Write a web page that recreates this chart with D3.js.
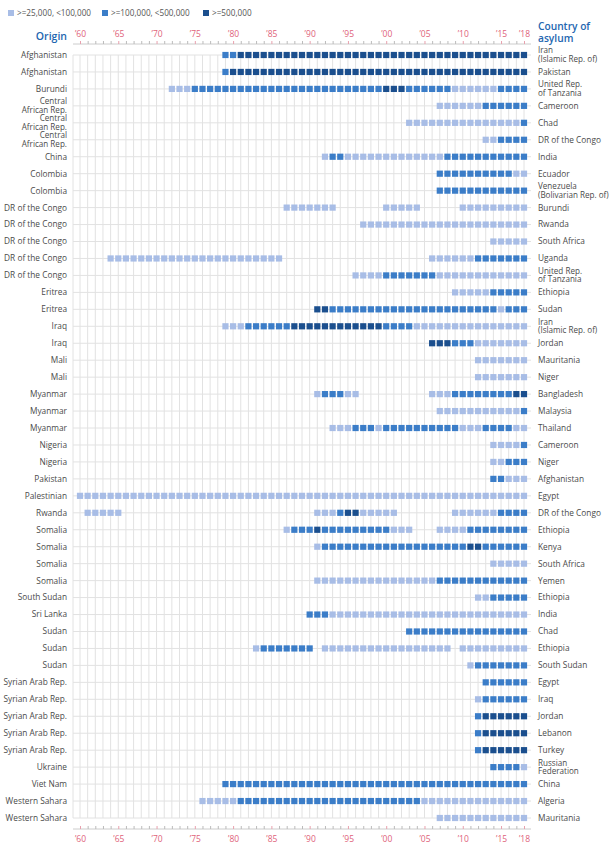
<!DOCTYPE html>
<html><head><meta charset="utf-8">
<script src="https://cdn.jsdelivr.net/npm/d3@7"></script>
<style>
body{margin:0;background:#fff;}
svg text{font-family:"Open Sans",sans-serif;}
</style></head>
<body><svg id="c" width="610" height="850"></svg>
<script>
// ---------- DATA ----------
const origins = ["Afghanistan","Afghanistan","Burundi","Central\nAfrican Rep.","Central\nAfrican Rep.","Central\nAfrican Rep.","China","Colombia","Colombia",
"DR of the Congo","DR of the Congo","DR of the Congo","DR of the Congo","DR of the Congo","Eritrea","Eritrea","Iraq","Iraq","Mali","Mali",
"Myanmar","Myanmar","Myanmar","Nigeria","Nigeria","Pakistan","Palestinian","Rwanda","Somalia","Somalia","Somalia","Somalia","South Sudan",
"Sri Lanka","Sudan","Sudan","Sudan","Syrian Arab Rep.","Syrian Arab Rep.","Syrian Arab Rep.","Syrian Arab Rep.","Syrian Arab Rep.","Ukraine",
"Viet Nam","Western Sahara","Western Sahara"];
const asylums = ["Iran\n(Islamic Rep. of)","Pakistan","United Rep.\nof Tanzania","Cameroon","Chad","DR of the Congo","India","Ecuador","Venezuela\n(Bolivarian Rep. of)",
"Burundi","Rwanda","South Africa","Uganda","United Rep.\nof Tanzania","Ethiopia","Sudan","Iran\n(Islamic Rep. of)","Jordan","Mauritania","Niger",
"Bangladesh","Malaysia","Thailand","Cameroon","Niger","Afghanistan","Egypt","DR of the Congo","Ethiopia","Kenya","South Africa","Yemen","Ethiopia",
"India","Chad","Ethiopia","South Sudan","Egypt","Iraq","Jordan","Lebanon","Turkey","Russian\nFederation","China","Algeria","Mauritania"];
// runs per row: [firstYear, lastYear, level]  (1: >=25k <100k, 2: >=100k <500k, 3: >=500k)
const runs = [
 [[1979,1980,2],[1981,2018,3]],
 [[1979,1979,2],[1980,2018,3]],
 [[1972,1974,1],[1975,1999,2],[2000,2002,3],[2003,2008,2],[2009,2014,1],[2015,2018,2]],
 [[2007,2012,1],[2013,2018,2]],
 [[2003,2017,1],[2018,2018,2]],
 [[2013,2014,1],[2015,2018,2]],
 [[1992,1992,1],[1993,1994,2],[1995,2007,1],[2008,2018,2]],
 [[2007,2016,2],[2017,2018,1]],
 [[2007,2018,2]],
 [[1987,1993,1],[2000,2004,1],[2010,2018,1]],
 [[1997,2018,1]],
 [[2014,2018,1]],
 [[1964,1986,1],[2006,2011,1],[2012,2018,2]],
 [[1996,1999,1],[2000,2006,2],[2007,2018,1]],
 [[2009,2013,1],[2014,2018,2]],
 [[1991,1992,3],[1993,2014,2],[2015,2015,1],[2016,2018,2]],
 [[1979,1981,1],[1982,1987,2],[1988,1999,3],[2000,2003,2],[2004,2018,1]],
 [[2006,2008,3],[2009,2011,2],[2012,2018,1]],
 [[2012,2018,1]],
 [[2012,2018,1]],
 [[1991,1991,1],[1992,1994,2],[1995,1996,1],[2006,2008,1],[2009,2016,2],[2017,2018,3]],
 [[2007,2017,1],[2018,2018,2]],
 [[1993,1995,1],[1996,1998,2],[1999,1999,1],[2000,2009,2],[2010,2012,1],[2013,2016,2],[2017,2018,1]],
 [[2014,2017,1],[2018,2018,2]],
 [[2014,2015,1],[2016,2018,2]],
 [[2014,2015,2],[2016,2018,1]],
 [[1960,2018,1]],
 [[1961,1965,1],[1991,1993,1],[1994,1994,2],[1995,1996,3],[1997,2001,1],[2009,2014,1],[2015,2018,2]],
 [[1987,1987,1],[1988,1990,2],[1991,1991,3],[1992,2000,2],[2001,2003,1],[2007,2010,1],[2011,2018,2]],
 [[1991,1991,1],[1992,2010,2],[2011,2012,3],[2013,2018,2]],
 [[2014,2018,1]],
 [[1991,2006,1],[2007,2018,2]],
 [[2012,2013,1],[2014,2018,2]],
 [[1990,1992,2],[1993,2018,1]],
 [[2003,2018,2]],
 [[1983,1983,1],[1984,1990,2],[1992,2008,1],[2010,2018,1]],
 [[2011,2011,1],[2012,2018,2]],
 [[2013,2018,2]],
 [[2012,2012,1],[2013,2018,2]],
 [[2012,2012,2],[2013,2018,3]],
 [[2012,2012,2],[2013,2018,3]],
 [[2012,2012,2],[2013,2018,3]],
 [[2014,2017,2],[2018,2018,1]],
 [[1979,2018,2]],
 [[1976,1980,1],[1981,2004,2],[2005,2018,1]],
 [[2007,2018,1]]
];
const years = d3.range(1960, 2019);
const labelYears = [1960,1965,1970,1975,1980,1985,1990,1995,2000,2005,2010,2015,2018];
const legendLabels = [">=25,000, <100,000", ">=100,000, <500,000", ">=500,000"];
const levelColors = ["#a8bde6", "#3b7dc8", "#1b4f8e"];

// ---------- CHART ----------
const svg = d3.select("#c");
const x = d3.scaleLinear().domain([1960, 2018]).range([80, 524]);
const rows = d3.range(origins.length);
const y = d3.scalePoint().domain(rows).range([55, 818]);
const color = d3.scaleOrdinal().domain([1,2,3]).range(levelColors);
const left = x(1960) - 7, right = x(2018) + 7;
const grid = "#e2e2e2";

// grid
const g = svg.append("g");
g.selectAll("line.h").data(rows).join("line")
  .attr("x1", left).attr("x2", right).attr("y1", d => y(d)).attr("y2", d => y(d))
  .attr("stroke", grid).attr("stroke-width", 1);
g.selectAll("line.v").data(years).join("line")
  .attr("x1", d => x(d)).attr("x2", d => x(d)).attr("y1", y(0)).attr("y2", y(rows.length-1))
  .attr("stroke", grid).attr("stroke-width", 1);
g.append("line").attr("x1", left).attr("x2", left).attr("y1", y(0)).attr("y2", y(rows.length-1)).attr("stroke", grid);

// axes
function styleAxis(sel){
  sel.select(".domain").remove();
  sel.selectAll(".tick line").attr("stroke", d => labelYears.includes(d) ? "#e8a0ad" : "#bbb");
  sel.selectAll(".tick text").attr("fill", "#e0627a").attr("font-size", 8.5);
}
const fmt = d => labelYears.includes(d) ? "\u2019" + String(d).slice(2) : "";
svg.append("line").attr("x1", left).attr("x2", right).attr("y1", 44).attr("y2", 44).attr("stroke", "#ccc");
svg.append("line").attr("x1", left).attr("x2", right).attr("y1", 829).attr("y2", 829).attr("stroke", "#ccc");
svg.append("g").attr("transform", "translate(0,44)")
  .call(d3.axisTop(x).tickValues(years).tickFormat(fmt).tickSize(3).tickSizeOuter(0).tickPadding(4))
  .call(styleAxis);
svg.append("g").attr("transform", "translate(0,829)")
  .call(d3.axisBottom(x).tickValues(years).tickFormat(fmt).tickSize(-3).tickSizeOuter(0).tickPadding(7))
  .call(styleAxis);

// cells
const cells = [];
runs.forEach((rr, r) => rr.forEach(([a, b, lv]) => years.filter(yy => yy >= a && yy <= b).forEach(yy => cells.push({r, yy, lv}))));
const cs = 6.2;
svg.append("g").selectAll("rect").data(cells).join("rect")
  .attr("x", d => x(d.yy) - cs/2).attr("y", d => y(d.r) - cs/2)
  .attr("width", cs).attr("height", cs)
  .attr("fill", d => color(d.lv));

// labels
function multi(sel, getText){
  sel.each(function(d){
    const lines = getText(d).split("\n");
    const t = d3.select(this);
    if (lines.length > 1) t.attr("font-size", 8.1);
    lines.forEach((l, i) => t.append("tspan").attr("x", t.attr("x"))
      .attr("dy", i === 0 ? (lines.length === 1 ? "0.35em" : "-0.2em") : "1.05em").text(l));
  });
}
svg.append("g").selectAll("text").data(rows).join("text")
  .attr("x", 67).attr("y", d => y(d)).attr("text-anchor", "end")
  .attr("font-size", 8.3).attr("fill", "#4a4a4a")
  .call(multi, d => origins[d]);
svg.append("g").selectAll("text").data(rows).join("text")
  .attr("x", 538).attr("y", d => y(d)).attr("text-anchor", "start")
  .attr("font-size", 8.3).attr("fill", "#4a4a4a")
  .call(multi, d => asylums[d]);

// headers
svg.append("text").attr("x", 67).attr("y", 40).attr("text-anchor", "end")
  .attr("font-size", 10.5).attr("font-weight", 600).attr("fill", "#2366b0").text("Origin");
svg.append("text").attr("x", 538).attr("y", 30).attr("font-size", 10.2).attr("font-weight", 600).attr("fill", "#2366b0").text("Country of");
svg.append("text").attr("x", 538).attr("y", 41.5).attr("font-size", 10.2).attr("font-weight", 600).attr("fill", "#2366b0").text("asylum");

// legend
const legX = [8, 102, 203];
const lg = svg.append("g").selectAll("g").data(legendLabels).join("g")
  .attr("transform", (d, i) => `translate(${legX[i]},10)`);
lg.append("rect").attr("width", 6).attr("height", 6).attr("fill", (d, i) => levelColors[i]);
lg.append("text").attr("x", 9).attr("y", 6).attr("font-size", 8.2).attr("fill", "#555").text(d => d);
</script></body></html>
